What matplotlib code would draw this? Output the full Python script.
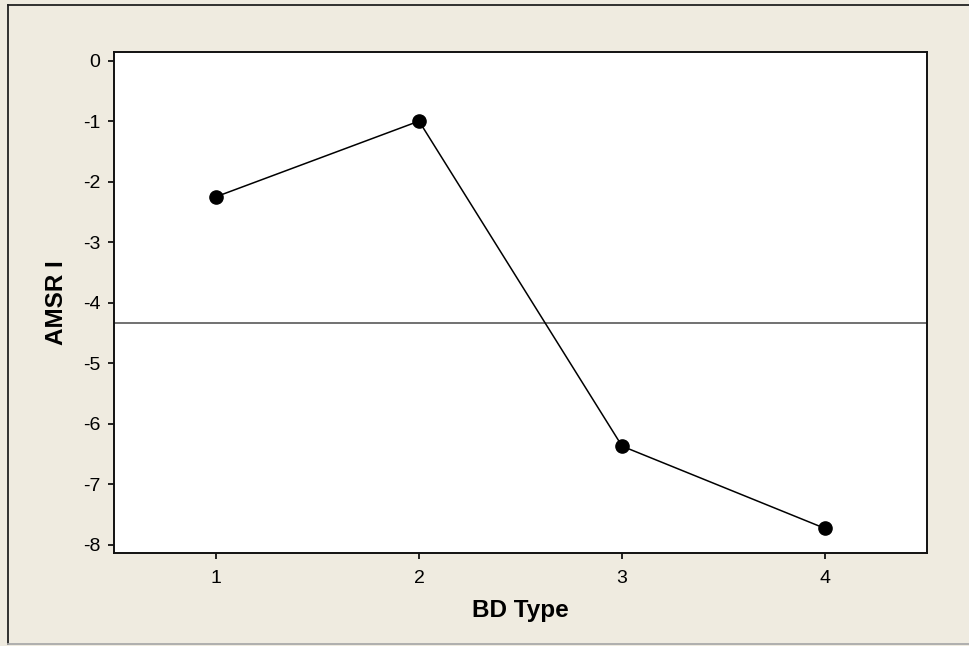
import matplotlib.pyplot as plt
from matplotlib.lines import Line2D

bd_types = [1, 2, 3, 4]
amsri = [-2.25, -1.0, -6.37, -7.73]
y_ticks = [0, -1, -2, -3, -4, -5, -6, -7, -8]

plt.rcParams['font.family'] = ['Liberation Sans', 'DejaVu Sans']
plt.rcParams['axes.unicode_minus'] = False

bg = '#EFEBE0'
fig = plt.figure(figsize=(9.7, 6.46), dpi=100, facecolor=bg)
ax = fig.add_axes([114.4 / 970, 1 - 553.3 / 646, (926.7 - 114.4) / 970, (553.3 - 51.5) / 646])
ax.set_facecolor('white')

mean_val = sum(amsri) / len(amsri)
ax.axhline(mean_val, color='#666666', lw=1.3, zorder=1)
ax.plot(bd_types, amsri, color='black', lw=1.1, marker='o', markersize=9.5, zorder=3)

ax.set_xlim(0.5, 4.5)
ax.set_ylim(-8.14, 0.15)
ax.set_xticks(bd_types)
ax.set_yticks(y_ticks)
ax.tick_params(direction='out', length=4, width=1.2, labelsize=14, pad=6, colors='black')
ax.tick_params(axis='x', pad=8)
for s in ax.spines.values():
    s.set_linewidth(1.4)
    s.set_color('#111111')

ax.set_xlabel('BD Type', fontsize=17.5, fontweight='bold', labelpad=9)
ax.set_ylabel('AMSR I', fontsize=17.5, fontweight='bold', labelpad=11)

# figure border
fig.add_artist(Line2D([8 / 970, 8 / 970], [1 - 644 / 646, 1 - 5 / 646], color='#222222', lw=1.3, transform=fig.transFigure))
fig.add_artist(Line2D([8 / 970, 1], [1 - 5 / 646, 1 - 5 / 646], color='#222222', lw=1.3, transform=fig.transFigure))
fig.add_artist(Line2D([8 / 970, 1], [1 - 644 / 646, 1 - 644 / 646], color='#aaaaaa', lw=1.3, transform=fig.transFigure))

fig.savefig('out.png', dpi=100, facecolor=bg)
